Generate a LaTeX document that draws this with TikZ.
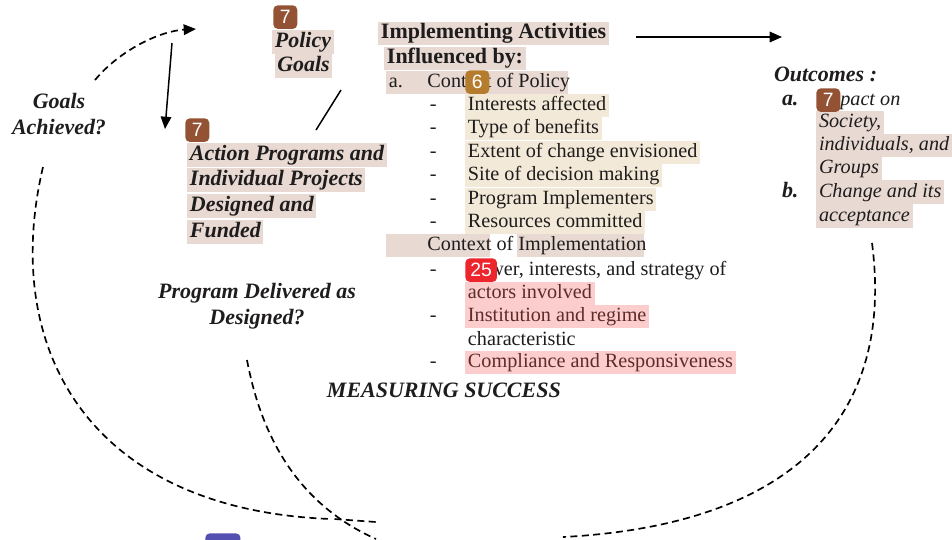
\documentclass[tikz,border=0pt]{standalone}
\usepackage{fontspec}
\setmainfont{Liberation Serif}
\newfontfamily\badgefont{Liberation Sans}
\usetikzlibrary{arrows.meta, positioning}

\definecolor{hlbrown}{RGB}{232,218,211}
\definecolor{hlyellow}{RGB}{243,233,216}
\definecolor{hlpink}{RGB}{251,205,205}
\definecolor{inkpink}{RGB}{95,42,42}
\definecolor{ink}{RGB}{30,28,28}
\definecolor{badgebrown}{RGB}{148,82,52}
\definecolor{badgegold}{RGB}{180,124,44}
\definecolor{badgered}{RGB}{236,38,44}
\definecolor{badgeblue}{RGB}{84,80,178}

\tikzset{
  txt/.style={inner xsep=1.5pt, inner ysep=0.7pt, text height=9pt, text depth=3pt,
    text=ink, font=\fontsize{11.5}{13}\selectfont},
  head/.style={txt, font=\fontsize{12.5}{14}\selectfont\bfseries},
  lab/.style={txt, font=\fontsize{12.5}{14}\selectfont\bfseries\itshape},
  outc/.style={txt, font=\fontsize{11.5}{13}\selectfont\itshape},
  badge/.style={rounded corners=2.5pt, minimum width=13.6pt, minimum height=13.4pt,
    inner sep=0pt, text=white, anchor=north west, font=\badgefont\fontsize{11}{11}\selectfont},
  solidline/.style={line width=0.85pt},
  dashline/.style={line width=0.95pt, dash pattern=on 4pt off 2.5pt},
  tip/.style={-{Triangle[length=7pt,width=6pt]}},
}

\begin{document}
\begin{tikzpicture}[x=0.02cm, y=-0.02cm]
    \useasboundingbox (0,0) rectangle (952,539);

    % centre column
    \node[head, fill=hlbrown, anchor=west] (impl) at (378,33.5) {Implementing Activities};
    \node[head, fill=hlbrown, anchor=west] (infl) at (384,58.5) {Influenced by:};
    \fill[hlbrown] (386,71) rectangle (568,94);
    \node[txt, anchor=west] (pa) at (386,82.5) {a.};
    \node[txt, anchor=west] (ctxpol) at (424.5,82.5) {Context of Policy};
    \foreach \y/\t [count=\i] in {105.5/Interests affected, 128.5/Type of benefits,
        152.5/Extent of change envisioned, 175.5/Site of decision making,
        199.5/Program Implementers, 222.5/Resources committed} {
      \node[txt, anchor=west] (pd\i) at (427,\y) {-};
      \node[txt, fill=hlyellow, anchor=west] (pi\i) at (465,\y) {\t};
    }
    \fill[hlbrown] (386,234) rectangle (490,257);
    \fill[hlbrown] (517,234) rectangle (644,257);
    \node[txt, anchor=west] (ctximp) at (424.5,245.5) {Context of Implementation};

    \node[txt, anchor=west] (id1) at (427,270) {-};
    \node[txt, anchor=west] (power) at (465,270) {Power, interests, and strategy of};
    \node[txt, fill=hlpink, text=inkpink, anchor=west] (actors) at (465,293.5) {actors involved};
    \node[txt, anchor=west] (id2) at (427,316.5) {-};
    \node[txt, fill=hlpink, text=inkpink, anchor=west] (inst) at (465,316.5) {Institution and regime};
    \node[txt, anchor=west] (charac) at (465,340) {characteristic};
    \node[txt, anchor=west] (id3) at (427,362.5) {-};
    \node[txt, fill=hlpink, text=inkpink, anchor=west] (comply) at (465,362.5) {Compliance and Responsiveness};
    \node[lab, anchor=west] (measure) at (324,392) {MEASURING SUCCESS};

    % left side
    \node[lab, fill=hlbrown] (policy) at (303,42) {Policy};
    \node[lab, fill=hlbrown] (goals) at (303.5,66) {Goals};
    \node[lab, fill=hlbrown, anchor=west] (act1) at (187,155) {Action Programs and};
    \node[lab, fill=hlbrown, anchor=west] (act2) at (187,180) {Individual Projects};
    \node[lab, fill=hlbrown, anchor=west] (act3) at (187,206) {Designed and};
    \node[lab, fill=hlbrown, anchor=west] (act4) at (187,232) {Funded};
    \node[lab] (achieved1) at (59,103) {Goals};
    \node[lab] (achieved2) at (59,129) {Achieved?};
    \node[lab] (delivered1) at (257,293) {Program Delivered as};
    \node[lab] (delivered2) at (257,319) {Designed?};

    % outcomes
    \node[lab, anchor=west] (outcomes) at (771,76) {Outcomes :};
    \node[lab, anchor=west] (oa) at (779,100) {a.};
    \node[outc, anchor=west] (out1) at (816,100) {Impact on};
    \node[outc, fill=hlbrown, anchor=west] (out2) at (816,122.5) {Society,};
    \node[outc, fill=hlbrown, anchor=west] (out3) at (816,145.5) {individuals, and};
    \node[outc, fill=hlbrown, anchor=west] (out4) at (816,168.5) {Groups};
    \node[lab, anchor=west] (ob) at (779,192) {b.};
    \node[outc, fill=hlbrown, anchor=west] (out5) at (816,192) {Change and its};
    \node[outc, fill=hlbrown, anchor=west] (out6) at (816,216) {acceptance};

    % badges
    \node[badge, fill=badgebrown] (badge1) at (273,5) {7};
    \node[badge, fill=badgebrown] (badge2) at (185,118) {7};
    \node[badge, fill=badgegold] (badge3) at (465,70) {6};
    \node[badge, fill=badgered, minimum width=18pt] (badge4) at (465,258) {25};
    \node[badge, fill=badgebrown] (badge5) at (816,88) {7};
    \node[badge, fill=badgeblue, minimum width=20pt] (badge6) at (205,533) {};

    % connectors
    \coordinate (loopS) at (95,80);
    \coordinate (loopE) at (196,29);
    \coordinate (dropS) at (172,43);
    \coordinate (dropE) at (165,129);
    \coordinate (slashS) at (341,90);
    \coordinate (slashE) at (316,130);
    \coordinate (outS) at (636,37);
    \coordinate (outE) at (782,37);
    \coordinate (leftS) at (43,167);
    \coordinate (meet) at (331,519);
    \coordinate (progS) at (247,360);
    \coordinate (progE) at (376,539);
    \coordinate (barE) at (376,522);
    \coordinate (rightS) at (872,243);
    \coordinate (rightE) at (563,537);

    \draw[dashline, tip] (loopS) .. controls (120,50) and (160,31) .. (loopE);
    \draw[solidline, tip] (dropS) -- (dropE);
    \draw[solidline] (slashS) -- (slashE);
    \draw[solidline, tip] (outS) -- (outE);
    \draw[dashline] (leftS) .. controls (0,350) and (90,510) .. (meet);
    \draw[dashline] (progS) .. controls (262,440) and (300,505) .. (progE);
    \draw[dashline] ([xshift=2]meet) -- (barE);
    \draw[dashline] (rightS) .. controls (895,420) and (790,525) .. (rightE);

\end{tikzpicture}
\end{document}
